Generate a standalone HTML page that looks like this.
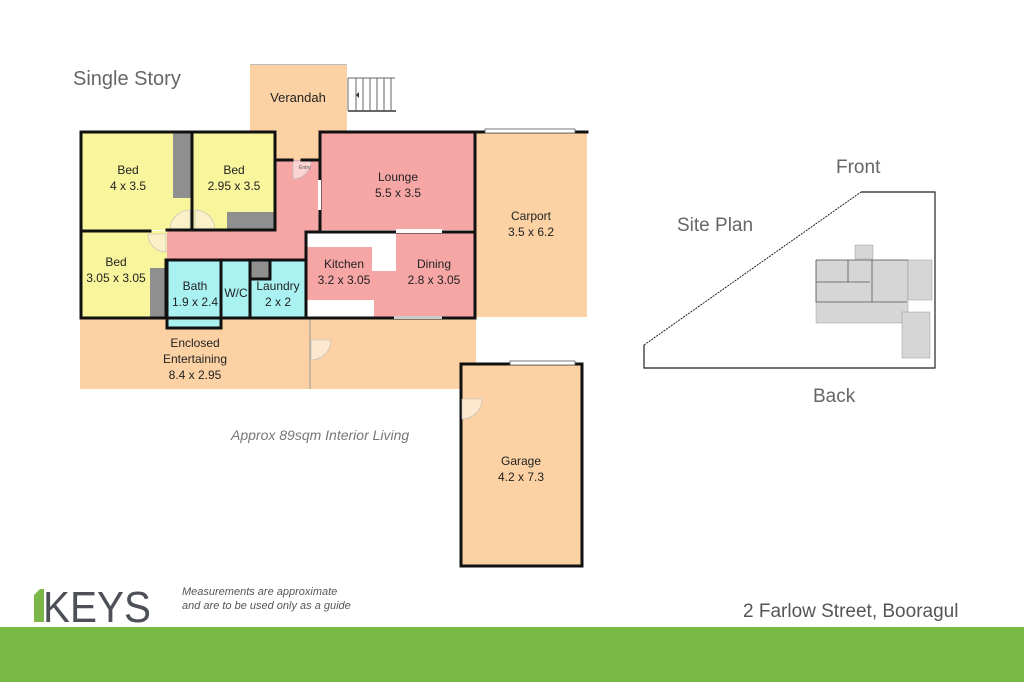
<!DOCTYPE html>
<html><head><meta charset="utf-8"><style>
html,body{margin:0;padding:0;background:#fff;width:1024px;height:682px;overflow:hidden}
svg text{font-family:"Liberation Sans",sans-serif}
</style></head><body>
<svg width="1024" height="682" viewBox="0 0 1024 682" xmlns="http://www.w3.org/2000/svg">
<rect width="1024" height="682" fill="#fff"/>
<text x="73" y="85" font-size="20" fill="#666">Single Story</text>
<rect x="250" y="64" width="97" height="68" fill="#fcd2a5"/>
<rect x="250" y="64" width="97" height="1" fill="#bbb"/>
<text x="298" y="102" font-size="13" text-anchor="middle" fill="#222">Verandah</text>
<g stroke="#666" stroke-width="1">
<line x1="348" y1="78" x2="395" y2="78"/><line x1="348" y1="111" x2="396" y2="111" stroke-width="2"/>
<line x1="348" y1="78" x2="348" y2="111"/><line x1="356" y1="78" x2="356" y2="111"/><line x1="363" y1="78" x2="363" y2="111"/><line x1="370" y1="78" x2="370" y2="111"/><line x1="377" y1="78" x2="377" y2="111"/><line x1="384" y1="78" x2="384" y2="111"/><line x1="391" y1="78" x2="391" y2="111"/>
</g>
<polygon points="356,95 359,92 359,98" fill="#333"/>
<rect x="276" y="130" width="44" height="32" fill="#fcd2a5"/>
<rect x="476" y="132" width="111" height="185" fill="#fcd2a5"/>
<text x="531" y="220" font-size="12" text-anchor="middle" fill="#222">Carport</text>
<text x="531" y="236" font-size="12" text-anchor="middle" fill="#222">3.5 x 6.2</text>
<rect x="80" y="318" width="396" height="71" fill="#fcd2a5"/>
<line x1="310" y1="318" x2="310" y2="389" stroke="#999" stroke-width="1"/>
<text x="195" y="347" font-size="12" text-anchor="middle" fill="#222">Enclosed</text>
<text x="195" y="363" font-size="12" text-anchor="middle" fill="#222">Entertaining</text>
<text x="195" y="379" font-size="12" text-anchor="middle" fill="#222">8.4 x 2.95</text>
<path d="M311,340 L311,360 A20,20 0 0 0 331,340 Z" fill="#fde7cf" stroke="#bbb" stroke-width="0.6"/>
<rect x="166" y="160" width="154" height="100" fill="#f7a6a6"/>
<rect x="80" y="132" width="113" height="98" fill="#f8f59c"/>
<rect x="173" y="132" width="18" height="66" fill="#8f8f8f"/>
<rect x="193" y="132" width="83" height="98" fill="#f8f59c"/>
<rect x="227" y="212" width="48" height="18" fill="#8f8f8f"/>
<rect x="80" y="231" width="87" height="87" fill="#f8f59c"/>
<rect x="150" y="268" width="16" height="50" fill="#8f8f8f"/>
<text x="128" y="174" font-size="12" text-anchor="middle" fill="#222">Bed</text>
<text x="128" y="190" font-size="12" text-anchor="middle" fill="#222">4 x 3.5</text>
<text x="234" y="174" font-size="12" text-anchor="middle" fill="#222">Bed</text>
<text x="234" y="190" font-size="12" text-anchor="middle" fill="#222">2.95 x 3.5</text>
<text x="116" y="266" font-size="12" text-anchor="middle" fill="#222">Bed</text>
<text x="116" y="282" font-size="12" text-anchor="middle" fill="#222">3.05 x 3.05</text>
<rect x="320" y="132" width="156" height="98" fill="#f7a6a6"/>
<text x="398" y="181" font-size="12" text-anchor="middle" fill="#222">Lounge</text>
<text x="398" y="197" font-size="12" text-anchor="middle" fill="#222">5.5 x 3.5</text>
<rect x="306" y="231" width="170" height="87" fill="#f7a6a6"/>
<rect x="306" y="231" width="90" height="16" fill="#fff"/>
<rect x="372" y="231" width="24" height="40" fill="#fff"/>
<rect x="306" y="300" width="68" height="18" fill="#fff"/>
<text x="344" y="268" font-size="12" text-anchor="middle" fill="#222">Kitchen</text>
<text x="344" y="284" font-size="12" text-anchor="middle" fill="#222">3.2 x 3.05</text>
<text x="434" y="268" font-size="12" text-anchor="middle" fill="#222">Dining</text>
<text x="434" y="284" font-size="12" text-anchor="middle" fill="#222">2.8 x 3.05</text>
<rect x="167" y="261" width="54" height="67" fill="#aaf2f2"/>
<rect x="222" y="261" width="28" height="57" fill="#aaf2f2"/>
<rect x="250" y="261" width="56" height="57" fill="#aaf2f2"/>
<rect x="250" y="261" width="20" height="18" fill="#8f8f8f"/>
<text x="195" y="290" font-size="12" text-anchor="middle" fill="#222">Bath</text>
<text x="195" y="306" font-size="12" text-anchor="middle" fill="#222">1.9 x 2.4</text>
<text x="236" y="297" font-size="12" text-anchor="middle" fill="#222">W/C</text>
<text x="278" y="290" font-size="12" text-anchor="middle" fill="#222">Laundry</text>
<text x="278" y="306" font-size="12" text-anchor="middle" fill="#222">2 x 2</text>
<g fill="#fcf0c8" stroke="#bbb" stroke-width="0.6">
<path d="M170,230 A20,20 0 0 1 190,210 L190,230 Z"/>
<path d="M195,230 L195,210 A20,20 0 0 1 215,230 Z"/>
<path d="M148,234 A18,18 0 0 0 166,252 L166,234 Z"/>
<path d="M293,161 L311,161 A18,18 0 0 1 293,179 Z" fill="#fbd3d3"/>
</g>
<text x="299" y="169" font-size="5" fill="#555">Entry</text>
<g stroke="#111" stroke-width="3" fill="none" stroke-linecap="square">
<path d="M81,132 L275,132 L275,230 L167,230"/>
<path d="M81,132 L81,318 L305,318"/>
<line x1="192" y1="132" x2="192" y2="230"/>
<line x1="81" y1="231" x2="150" y2="231"/>
<line x1="166" y1="260" x2="166" y2="318"/>
<path d="M167,260 L305,260"/>
<path d="M167,260 L167,328 L221,328 L221,260"/>
<line x1="250" y1="260" x2="250" y2="318"/>
<line x1="270" y1="261" x2="270" y2="279"/>
<line x1="251" y1="279" x2="270" y2="279"/>
<line x1="276" y1="160" x2="292" y2="160"/>
<line x1="302" y1="160" x2="320" y2="160"/>
<path d="M320,230 L320,132 L587,132"/>
<line x1="475" y1="132" x2="475" y2="318"/>
<path d="M306,318 L306,232 L475,232"/>
<line x1="306" y1="318" x2="475" y2="318"/>
</g>
<rect x="485" y="129" width="90" height="4" fill="#fff" stroke="#555" stroke-width="0.8"/>
<rect x="396" y="229" width="46" height="4" fill="#fff"/>
<rect x="394" y="316" width="48" height="3" fill="#ccc"/>
<rect x="318" y="180" width="3" height="30" fill="#fff"/>
<rect x="461" y="364" width="121" height="202" fill="#fcd2a5" stroke="#111" stroke-width="3"/>
<rect x="510" y="361" width="65" height="4" fill="#fff" stroke="#555" stroke-width="0.8"/>
<path d="M462,399 L462,419 A20,20 0 0 0 482,399 Z" fill="#fde7cf" stroke="#bbb" stroke-width="0.6"/>
<text x="521" y="465" font-size="12" text-anchor="middle" fill="#222">Garage</text>
<text x="521" y="481" font-size="12" text-anchor="middle" fill="#222">4.2 x 7.3</text>
<text x="231" y="440" font-size="14" font-style="italic" fill="#777">Approx 89sqm Interior Living</text>
<text x="836" y="173" font-size="19" fill="#666">Front</text>
<text x="677" y="231" font-size="19" fill="#666">Site Plan</text>
<text x="813" y="402" font-size="19" fill="#666">Back</text>
<path d="M644,345 L861,192" stroke="#222" stroke-width="1" stroke-dasharray="2,1" fill="none"/>
<path d="M861,192 L935,192 L935,368 L644,368 L644,345" stroke="#222" stroke-width="1.2" fill="none"/>
<g fill="#d6d6d6" stroke="#888" stroke-width="0.4">
<rect x="855" y="245" width="18" height="14"/>
<rect x="816" y="260" width="92" height="63"/>
<rect x="908" y="260" width="24" height="40"/>
<rect x="902" y="312" width="28" height="46"/>
</g>
<g stroke="#555" stroke-width="0.8" fill="none">
<path d="M816,260 L908,260 M816,260 L816,302 L907,302 M848,260 L848,282 M872,260 L872,302 M816,282 L870,282"/>
</g>
<rect x="34" y="589" width="10" height="33" fill="#7ab648"/>
<polygon points="34,589 40,589 34,595" fill="#fff"/>
<text x="43" y="622" font-size="44" fill="#4d5157" textLength="108" lengthAdjust="spacingAndGlyphs">KEYS</text>
<text x="182" y="595" font-size="11" font-style="italic" fill="#555">Measurements are approximate</text>
<text x="182" y="609" font-size="11" font-style="italic" fill="#555">and are to be used only as a guide</text>
<text x="743" y="617" font-size="19" fill="#555">2 Farlow Street, Booragul</text>
<rect x="0" y="627" width="1024" height="55" fill="#78b845"/>
</svg>
</body></html>
